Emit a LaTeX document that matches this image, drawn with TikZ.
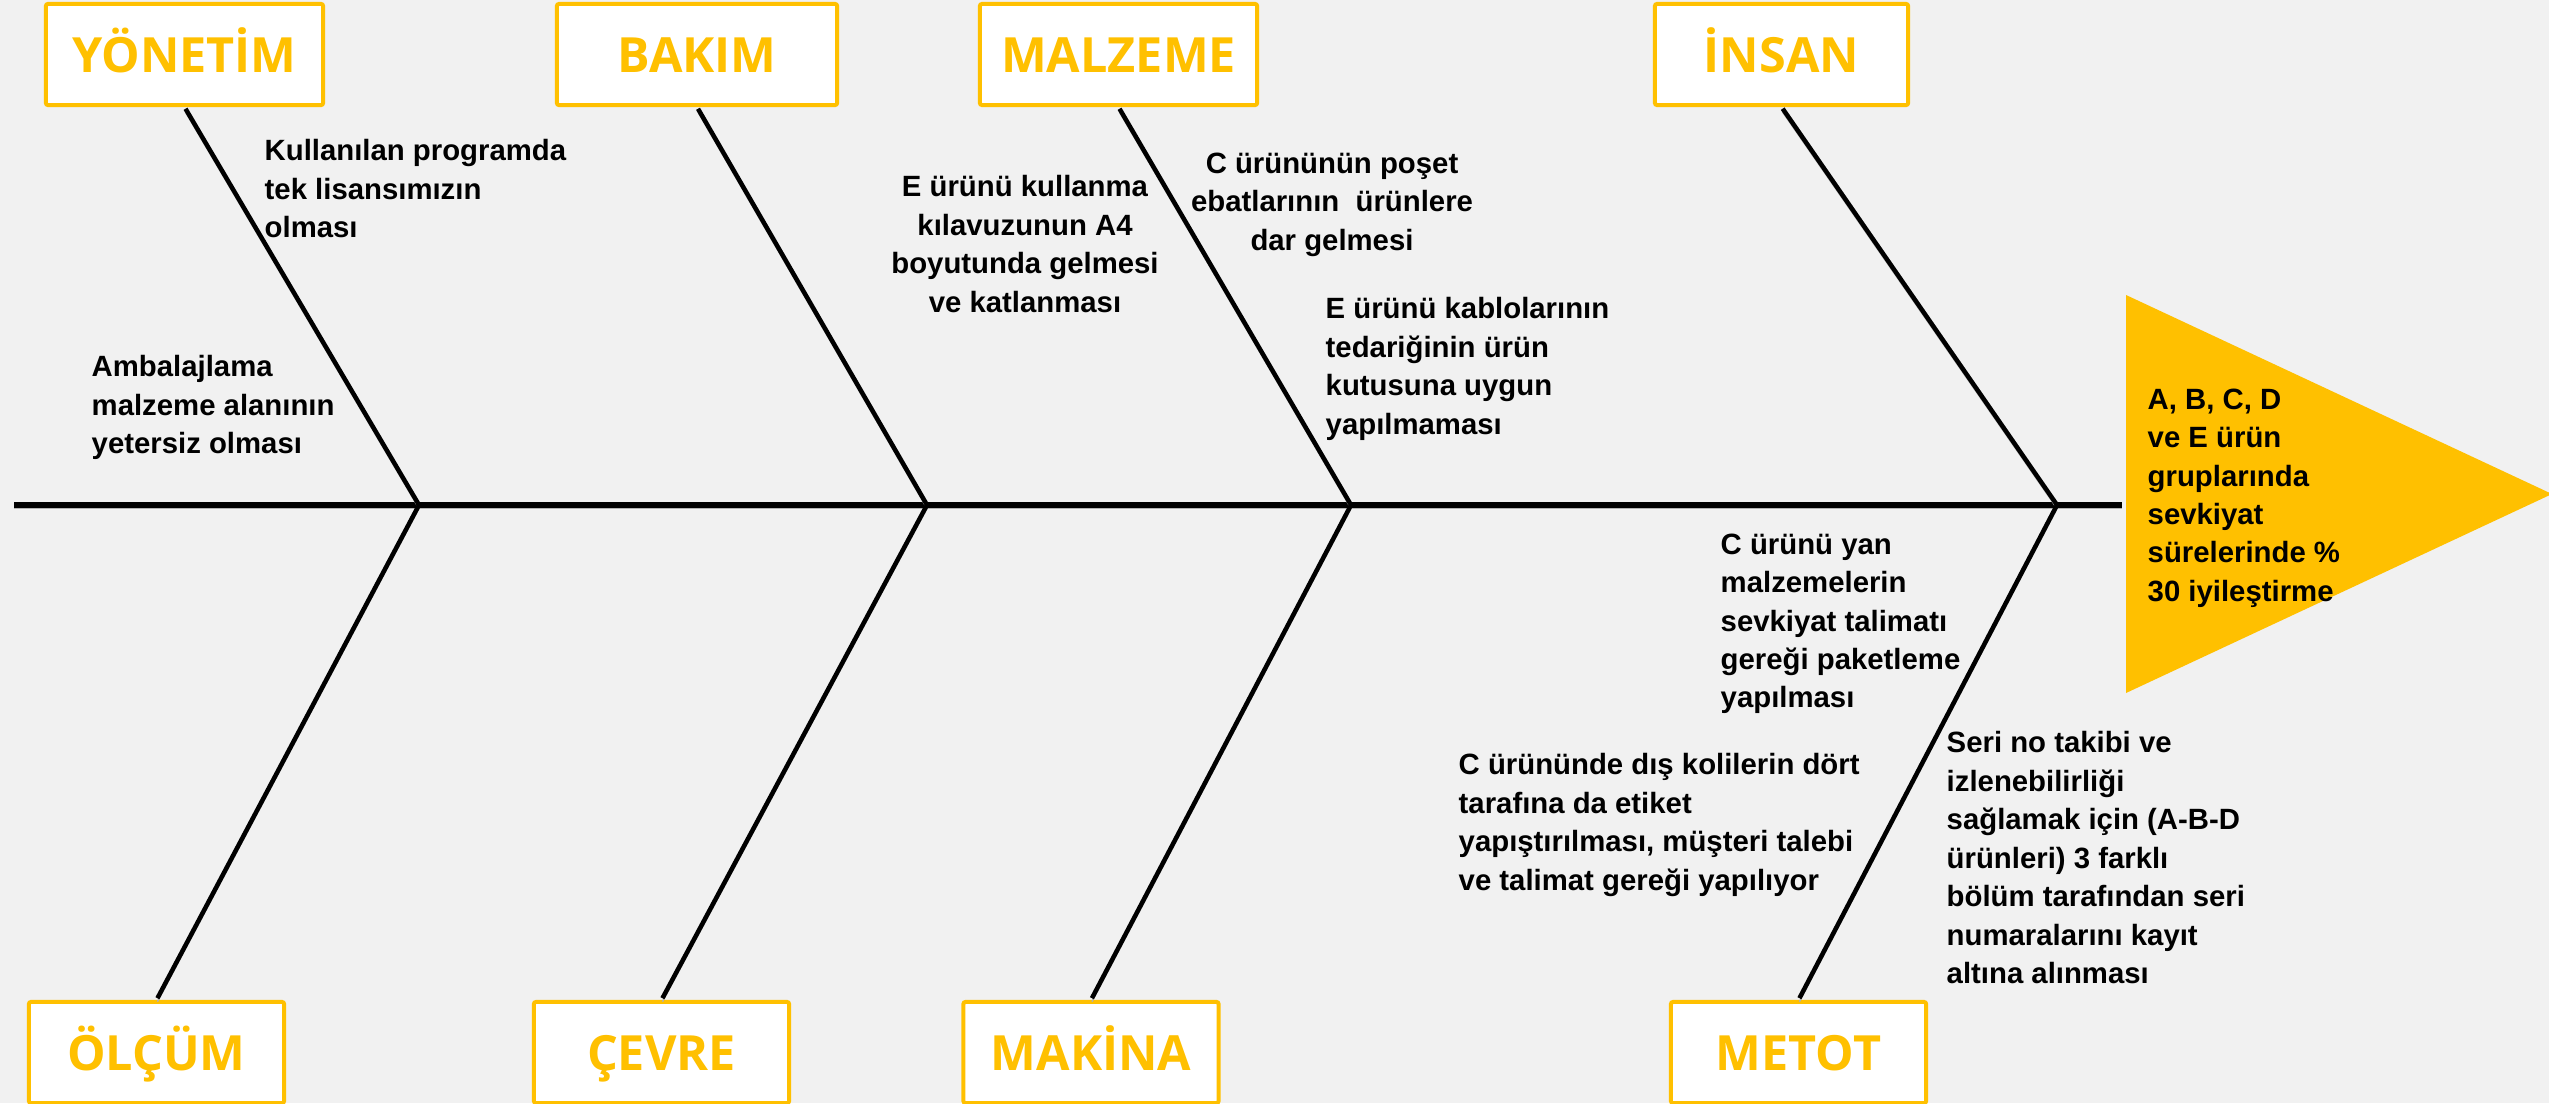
\documentclass[tikz,border=0pt]{standalone}
\usepackage{fontspec}
\setmainfont{Liberation Sans}
\newfontfamily\catfont{Open Sans}

\definecolor{gold}{HTML}{FFC000}
\definecolor{paper}{HTML}{F1F1F1}

\tikzset{
    catbox/.style={draw=gold, line width=0.04cm, fill=white, rounded corners=0.02cm,
        minimum height=1.01cm, text height=0.35cm, text depth=0pt, inner sep=0pt,
        text=gold, font=\catfont\bfseries\fontsize{13.8pt}{16pt}\selectfont},
    cause/.style={inner sep=0pt, align=left, anchor=north west,
        font=\bfseries\fontsize{8.34pt}{10.93pt}\selectfont},
    causemid/.style={cause, align=center, anchor=north},
    shade/.style={preaction={draw=black!30, transform canvas={yshift=-0.035cm}}},
    bone/.style={shade, line width=0.045cm, shorten <=0.02cm, shorten >=0.02cm},
    spine/.style={shade, line width=0.058cm},
}

\begin{document}
\begin{tikzpicture}[x=0.01cm, y=-0.01cm]
    \fill [paper] (0, 0) rectangle (2549, 1103);
    \useasboundingbox (0, 0) rectangle (2549, 1103);

    \node [catbox, minimum width=2.77cm] (yonetim) at (184.5, 54.5) {YÖNETİM};
    \node [catbox, minimum width=2.80cm] (bakim) at (697, 54.5) {BAKIM};
    \node [catbox, minimum width=2.77cm] (malzeme) at (1118.5, 54.5) {MALZEME};
    \node [catbox, minimum width=2.53cm] (insan) at (1781.5, 54.5) {İNSAN};
    \node [catbox, minimum width=2.55cm] (olcum) at (156.5, 1052.5) {ÖLÇÜM};
    \node [catbox, minimum width=2.55cm] (cevre) at (661.5, 1052.5) {ÇEVRE};
    \node [catbox, minimum width=2.55cm] (makina) at (1091, 1052.5) {MAKİNA};
    \node [catbox, minimum width=2.55cm] (metot) at (1798.5, 1052.5) {METOT};

    \coordinate (tail) at (14, 505);
    \coordinate (j1) at (419, 505);
    \coordinate (j2) at (927, 505);
    \coordinate (j3) at (1351, 505);
    \coordinate (j4) at (2057, 505);
    \coordinate (neck) at (2122, 505);

    \draw [spine] (tail) -- (neck);
    \draw [bone] (yonetim.south) -- (j1) -- (olcum.north);
    \draw [bone] (bakim.south) -- (j2) -- (cevre.north);
    \draw [bone] (malzeme.south) -- (j3) -- (makina.north);
    \draw [bone] (insan.south) -- (j4) -- (metot.north);

    \fill [gold] (2126, 295) -- (2552, 494) -- (2126, 693) -- cycle;
    \node [cause] (goal) at (2147, 388) {A, B, C, D\\ve E ürün\\gruplarında\\sevkiyat\\sürelerinde \%\\30 iyileştirme};

    \node [cause] (yon1) at (264, 139) {Kullanılan programda\\tek lisansımızın\\olması};
    \node [cause] (yon2) at (91, 355) {Ambalajlama\\malzeme alanının\\yetersiz olması};
    \node [causemid] (malz1) at (1025, 175) {E ürünü kullanma\\kılavuzunun A4\\boyutunda gelmesi\\ve katlanması};
    \node [causemid] (malz2) at (1332, 152) {C ürününün poşet\\ebatlarının\ \ ürünlere\\dar gelmesi};
    \node [cause] (malz3) at (1325, 297) {E ürünü kablolarının\\tedariğinin ürün\\kutusuna uygun\\yapılmaması};
    \node [cause] (met1) at (1720, 533) {C ürünü yan\\malzemelerin\\sevkiyat talimatı\\gereği paketleme\\yapılması};
    \node [cause] (mak1) at (1458, 753) {C ürününde dış kolilerin dört\\tarafına da etiket\\yapıştırılması, müşteri talebi\\ve talimat gereği yapılıyor};
    \node [cause] (met2) at (1946, 731) {Seri no takibi ve\\izlenebilirliği\\sağlamak için (A-B-D\\ürünleri) 3 farklı\\bölüm tarafından seri\\numaralarını kayıt\\altına alınması};
\end{tikzpicture}
\end{document}
